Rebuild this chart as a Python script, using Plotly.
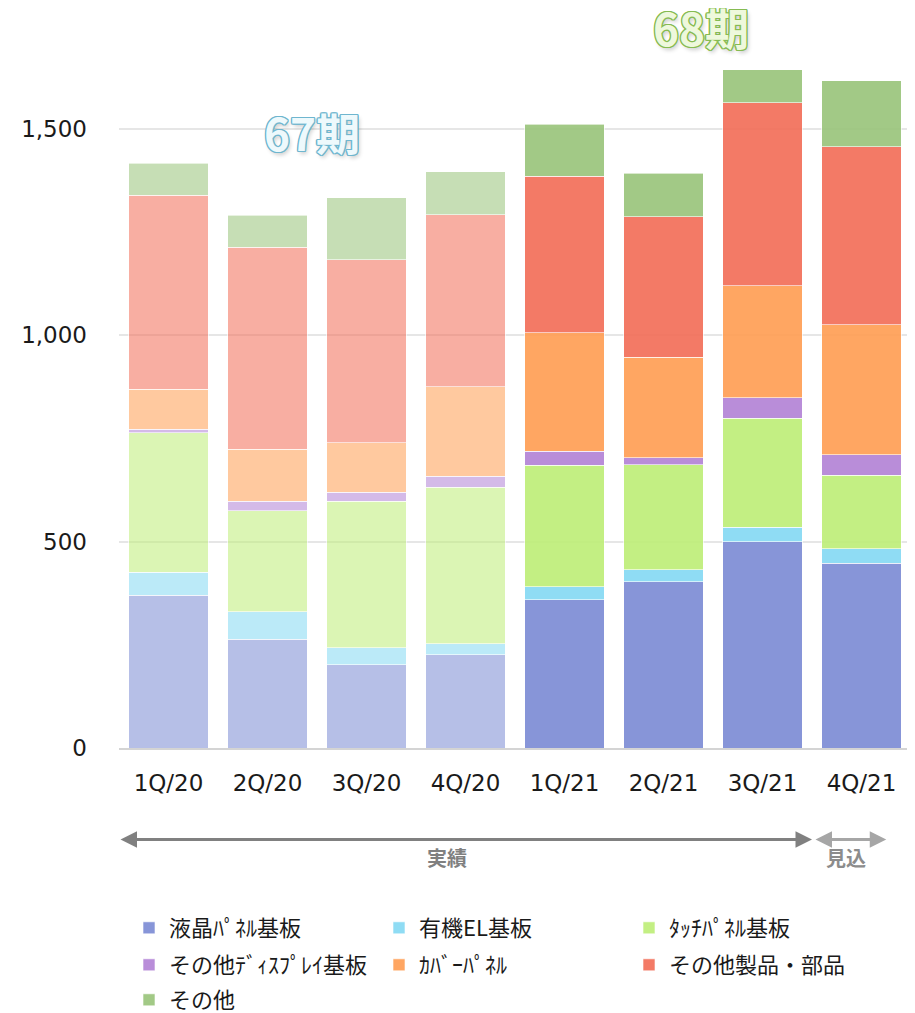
import plotly.graph_objects as go

quarters = ["1Q/20", "2Q/20", "3Q/20", "4Q/20", "1Q/21", "2Q/21", "3Q/21", "4Q/21"]
series_names = ["液晶ﾊﾟﾈﾙ基板", "有機EL基板", "ﾀｯﾁﾊﾟﾈﾙ基板", "その他ﾃﾞｨｽﾌﾟﾚｲ基板",
                "ｶﾊﾞｰﾊﾟﾈﾙ", "その他製品・部品", "その他"]

lcd = [370, 263, 202, 226, 359, 403, 500, 448]
oled = [56, 67, 41, 27, 31, 29, 34, 34]
touch = [338, 245, 355, 379, 295, 254, 265, 178]
other_disp = [8, 23, 21, 26, 34, 17, 49, 50]
cover = [97, 126, 120, 217, 286, 243, 271, 315]
other_prod = [470, 489, 443, 416, 380, 341, 443, 431]
other = [77, 77, 150, 104, 126, 105, 81, 160]

series_values = [lcd, oled, touch, other_disp, cover, other_prod, other]
base_colors = [(122, 138, 212), (131, 216, 243), (189, 237, 118), (177, 129, 213),
               (255, 156, 81), (242, 108, 85), (152, 195, 121)]

past_idx = [0, 1, 2, 3]      # 67期
current_idx = [4, 5, 6, 7]   # 68期
legend_ids = ["legend", "legend", "legend", "legend2", "legend2", "legend2", "legend3"]

W, H = 907, 1005  # page adds an 8px body margin

fig = go.Figure()

for name, vals, col in zip(series_names, series_values, base_colors):
    fig.add_trace(go.Bar(
        x=[quarters[i] for i in past_idx],
        y=[vals[i] for i in past_idx],
        name=name,
        marker=dict(color="rgba(%d,%d,%d,0.55)" % col,
                    line=dict(color="rgba(255,255,255,0.6)", width=1)),
        showlegend=False,
        hoverinfo="skip",
    ))

for name, vals, col, lg in zip(series_names, series_values, base_colors, legend_ids):
    fig.add_trace(go.Bar(
        x=[quarters[i] for i in current_idx],
        y=[vals[i] for i in current_idx],
        name=name,
        marker=dict(color="rgba(%d,%d,%d,0.9)" % col,
                    line=dict(color="rgba(255,255,255,0.6)", width=1)),
        legend=lg,
    ))

tick_font = dict(family="DejaVu Sans", size=23, color="#1a1a1a")
legend_font = dict(family="Noto Sans CJK JP", size=22, color="#1a1a1a")

def legend_cfg(ypx):
    return dict(orientation="h", xref="container", yref="container",
                x=121 / W, y=1 - (ypx - 8) / H, xanchor="left", yanchor="middle",
                entrywidth=205, bgcolor="rgba(0,0,0,0)", font=legend_font,
                traceorder="normal", itemclick=False, itemdoubleclick=False)

def outline(c, blur_c):
    parts = []
    for dx, dy in [(-1.3, 0), (1.3, 0), (0, -1.3), (0, 1.3), (-1, -1), (1, -1), (-1, 1), (1, 1)]:
        parts.append("%spx %spx 0 %s" % (dx, dy, c))
    parts.append("2px 3px 4px %s" % blur_c)
    return ", ".join(parts)

annotations = [
    dict(text="<b>67期</b>", xref="paper", yref="paper", x=0.2437, y=0.877,
         showarrow=False, xanchor="center", yanchor="middle",
         font=dict(family="Noto Sans CJK JP", size=44, color="#eef9fc",
                   shadow=outline("#6fb6cf", "rgba(0,0,0,0.2)"))),
    dict(text="<b>68期</b>", xref="paper", yref="paper", x=0.735, y=1.0266,
         showarrow=False, xanchor="center", yanchor="middle",
         font=dict(family="Noto Sans CJK JP", size=44, color="#eef8dc",
                   shadow=outline("#86bb52", "rgba(0,0,0,0.2)"))),
    # 実績 arrow
    dict(text="", xref="x", yref="paper", x=6.5, y=-0.1305,
         axref="x", ayref="pixel", ax=-0.5, ay=0,
         showarrow=True, arrowside="end+start", arrowhead=2, arrowsize=1.1,
         arrowwidth=3, arrowcolor="#808080", standoff=0, startstandoff=0),
    # 見込 arrow
    dict(text="", xref="x", yref="paper", x=7.25, y=-0.1305,
         axref="x", ayref="pixel", ax=6.52, ay=0,
         showarrow=True, arrowside="end+start", arrowhead=2, arrowsize=1.1,
         arrowwidth=3, arrowcolor="#a6a6a6", standoff=0, startstandoff=0),
    dict(text="<b>実績</b>", xref="paper", yref="paper", x=0.414, y=-0.156,
         showarrow=False, xanchor="center", yanchor="middle",
         font=dict(family="Noto Sans CJK JP", size=20, color="#808080")),
    dict(text="<b>見込</b>", xref="paper", yref="paper", x=0.918, y=-0.156,
         showarrow=False, xanchor="center", yanchor="middle",
         font=dict(family="Noto Sans CJK JP", size=20, color="#8c8c8c")),
]

fig.update_layout(
    width=W, height=H,
    margin=dict(l=111, r=4, t=37.7, b=264.7),
    barmode="stack", bargap=0.2,
    plot_bgcolor="white", paper_bgcolor="white",
    xaxis=dict(type="category", categoryorder="array", categoryarray=quarters,
               range=[-0.5, 7.5], tickfont=tick_font, showgrid=False,
               showline=True, linecolor="#d4d4d4", linewidth=2,
               ticks="", ticklabelstandoff=13),
    yaxis=dict(range=[0, 1700], tickvals=[0, 500, 1000, 1500],
               ticktext=["0", "500", "1,000", "1,500"], tickfont=tick_font,
               showgrid=True, gridcolor="#e6e6e6", gridwidth=1.5,
               zeroline=False, showline=False, ticks="", ticklabelstandoff=31),
    legend=legend_cfg(928),
    legend2=legend_cfg(965),
    legend3=legend_cfg(1000),
    annotations=annotations,
    font=dict(family="Noto Sans CJK JP"),
)

fig.write_html("out.html")
